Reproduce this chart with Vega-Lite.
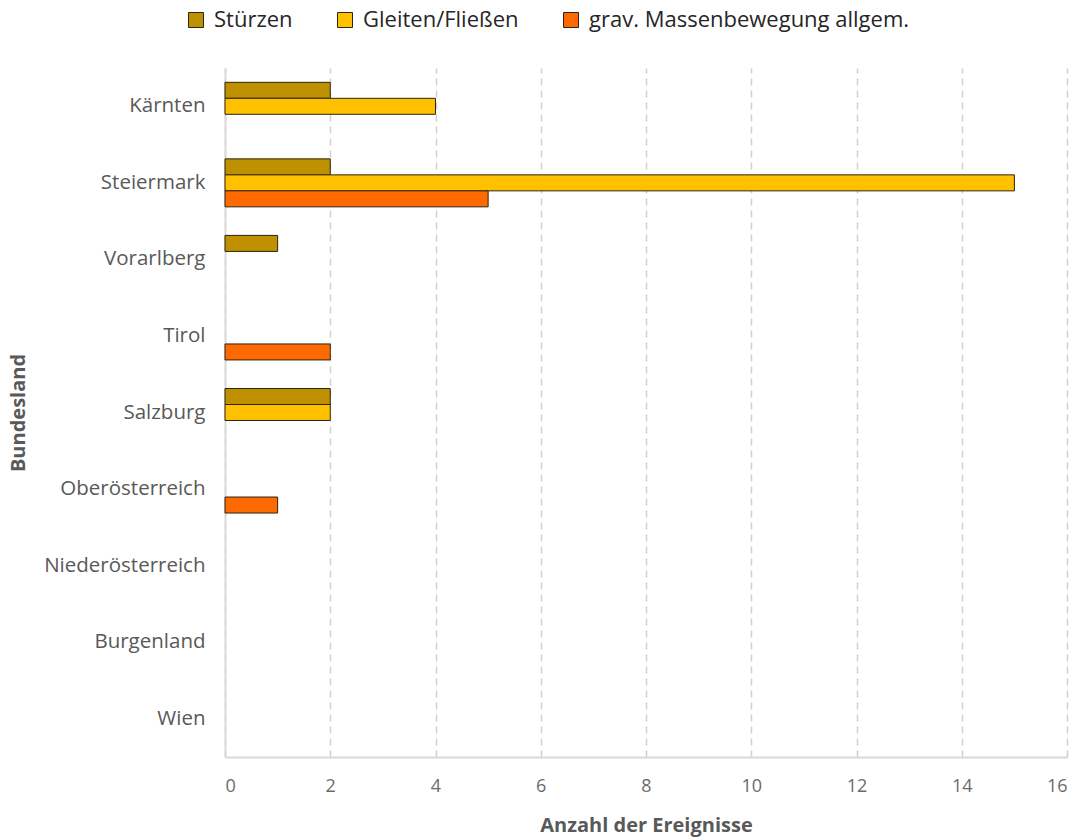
{
  "$schema": "https://vega.github.io/schema/vega-lite/v6.json",
  "autosize": {"type": "none"},
  "padding": {"left": 225, "top": 68, "right": 18, "bottom": 83},
  "width": 842,
  "height": 689,
  "background": "white",
  "config": {
    "font": "Open Sans",
    "view": {"stroke": null},
    "axis": {"labelColor": "#595959", "titleColor": "#595959", "labelFont": "Open Sans", "titleFont": "Open Sans"},
    "legend": {"labelFont": "Open Sans"}
  },
  "data": {
    "values": [
      {"land": "Kärnten", "typ": "Stürzen", "n": 2},
      {"land": "Kärnten", "typ": "Gleiten/Fließen", "n": 4},
      {"land": "Steiermark", "typ": "Stürzen", "n": 2},
      {"land": "Steiermark", "typ": "Gleiten/Fließen", "n": 15},
      {"land": "Steiermark", "typ": "grav. Massenbewegung allgem.", "n": 5},
      {"land": "Vorarlberg", "typ": "Stürzen", "n": 1},
      {"land": "Tirol", "typ": "grav. Massenbewegung allgem.", "n": 2},
      {"land": "Salzburg", "typ": "Stürzen", "n": 2},
      {"land": "Salzburg", "typ": "Gleiten/Fließen", "n": 2},
      {"land": "Oberösterreich", "typ": "grav. Massenbewegung allgem.", "n": 1}
    ]
  },
  "mark": {"type": "bar", "stroke": "#2b2410", "strokeWidth": 1},
  "encoding": {
    "y": {
      "field": "land",
      "type": "nominal",
      "scale": {
        "domain": ["Kärnten", "Steiermark", "Vorarlberg", "Tirol", "Salzburg", "Oberösterreich", "Niederösterreich", "Burgenland", "Wien"],
        "paddingInner": 0.373,
        "paddingOuter": 0.187
      },
      "axis": {
        "title": "Bundesland",
        "titleFontSize": 20,
        "titleFontWeight": "bold",
        "titlePadding": 15,
        "ticks": false,
        "labelFontSize": 20.5,
        "labelPadding": 20,
        "domainColor": "#d9d9d9",
        "domainWidth": 2,
        "grid": false
      }
    },
    "yOffset": {
      "field": "typ",
      "type": "nominal",
      "scale": {"domain": ["Stürzen", "Gleiten/Fließen", "grav. Massenbewegung allgem."], "paddingInner": 0, "paddingOuter": 0}
    },
    "x": {
      "field": "n",
      "type": "quantitative",
      "scale": {"domain": [0, 16], "nice": false},
      "axis": {
        "title": "Anzahl der Ereignisse",
        "titleFontSize": 20,
        "titleFontWeight": "bold",
        "titlePadding": 20,
        "values": [0, 2, 4, 6, 8, 10, 12, 14, 16],
        "ticks": false,
        "labelFontSize": 18,
        "labelColor": "#6b6b6b",
        "labelPadding": 20,
        "domainColor": "#d9d9d9",
        "domainWidth": 2,
        "grid": true,
        "gridColor": "#d0d0d0",
        "gridWidth": 1.5,
        "gridDash": [7, 5]
      }
    },
    "color": {
      "field": "typ",
      "type": "nominal",
      "scale": {
        "domain": ["Stürzen", "Gleiten/Fließen", "grav. Massenbewegung allgem."],
        "range": ["#bf9000", "#ffc000", "#ff6a00"]
      },
      "legend": {
        "title": null,
        "orient": "none",
        "direction": "horizontal",
        "legendX": -40,
        "legendY": -59,
        "symbolType": "square",
        "symbolSize": 225,
        "symbolStrokeColor": "#2b2410",
        "symbolStrokeWidth": 1,
        "labelFontSize": 22,
        "labelLimit": 500,
        "labelColor": "#262626",
        "labelOffset": 7,
        "columnPadding": 41
      }
    }
  }
}
